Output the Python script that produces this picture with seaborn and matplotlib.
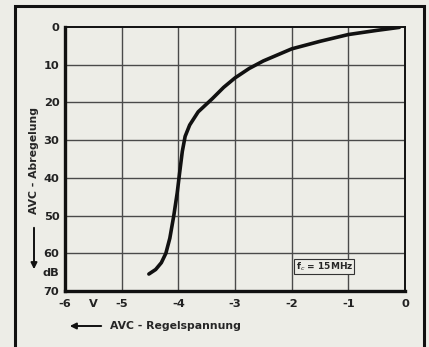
import numpy as np
import pandas as pd
import matplotlib
matplotlib.use("Agg")
import matplotlib.pyplot as plt
import seaborn as sns
from matplotlib.patches import Rectangle

# curve (AVC control voltage vs. attenuation)
volts = [-4.52, -4.4, -4.3, -4.22, -4.15, -4.08, -4.02, -3.98, -3.93, -3.88,
         -3.8, -3.65, -3.4, -3.2, -3.0, -2.75, -2.5, -2.0, -1.5, -1.0, -0.5, -0.1]
atten = [65.5, 64.3, 62.5, 60, 56, 50, 44, 39, 33, 29,
         26, 22.5, 19, 16, 13.5, 11, 9, 5.8, 3.8, 2.0, 0.9, 0.1]

x_ticks = [-6, -5.5, -5, -4, -3, -2, -1, 0]
x_labels = ["-6", "V", "-5", "-4", "-3", "-2", "-1", "0"]
y_ticks = [0, 10, 20, 30, 40, 50, 60, 65, 70]
y_labels = ["0", "10", "20", "30", "40", "50", "60", "dB", "70"]

df = pd.DataFrame({"U": volts, "a": atten})

bg = "#ededE7"
sns.set_style("white")
plt.rcParams["font.family"] = ["DejaVu Sans"]

fig = plt.figure(figsize=(4.29, 3.47), dpi=100, facecolor=bg)
ax = fig.add_axes([65 / 429, 1 - 291 / 347, 340 / 429, 264 / 347])
ax.set_facecolor(bg)

sns.lineplot(data=df, x="U", y="a", sort=False, estimator=None,
             color="#111111", linewidth=2.6, ax=ax)

ax.set_xlim(-6, 0)
ax.set_ylim(70, 0)
for v in [-5, -4, -3, -2, -1]:
    ax.axvline(v, color="#4a4a4a", lw=1.0, zorder=0)
for v in [10, 20, 30, 40, 50, 60]:
    ax.axhline(v, color="#4a4a4a", lw=1.0, zorder=0)

ax.set_xticks(x_ticks)
ax.set_xticklabels(x_labels)
ax.set_yticks(y_ticks)
ax.set_yticklabels(y_labels)
ax.tick_params(length=0, labelsize=8.2, colors="#222222")
ax.tick_params(axis="y", pad=4)
ax.tick_params(axis="x", pad=6)
for t in ax.get_xticklabels() + ax.get_yticklabels():
    t.set_fontweight("bold")
ax.set_xlabel("")
ax.set_ylabel("")

for s in ["left", "bottom"]:
    ax.spines[s].set_linewidth(2.4)
for s in ["top", "right"]:
    ax.spines[s].set_linewidth(1.4)
for s in ax.spines.values():
    s.set_color("#111111")

ax.text(-1.93, 63.5, r"f$_c$ = 15MHz", fontsize=6.5, fontweight="bold",
        va="center", ha="left",
        bbox=dict(boxstyle="square,pad=0.15", fc=bg, ec="#333333", lw=0.8))

# axis captions with arrows
fig.text(34 / 429, 1 - 160 / 347, "AVC - Abregelung", rotation=90,
         ha="center", va="center", fontsize=7.8, fontweight="bold")
ax.annotate("", xy=(34, 347 - 272), xycoords="figure pixels",
            xytext=(34, 347 - 225), textcoords="figure pixels",
            arrowprops=dict(arrowstyle="-|>", color="#111111", lw=1.4,
                            mutation_scale=9))
fig.text(110 / 429, 1 - 326 / 347, "AVC - Regelspannung",
         ha="left", va="center", fontsize=7.8, fontweight="bold")
ax.annotate("", xy=(67, 347 - 326), xycoords="figure pixels",
            xytext=(104, 347 - 326), textcoords="figure pixels",
            arrowprops=dict(arrowstyle="-|>", color="#111111", lw=1.4,
                            mutation_scale=9))

# outer frame of the scanned figure
fig.add_artist(Rectangle((15 / 429, -0.02), 409 / 429, 1 - 6 / 347 + 0.02,
                         transform=fig.transFigure, fill=False,
                         ec="#111111", lw=2.2))

fig.savefig("out.png", dpi=100, facecolor=bg)
